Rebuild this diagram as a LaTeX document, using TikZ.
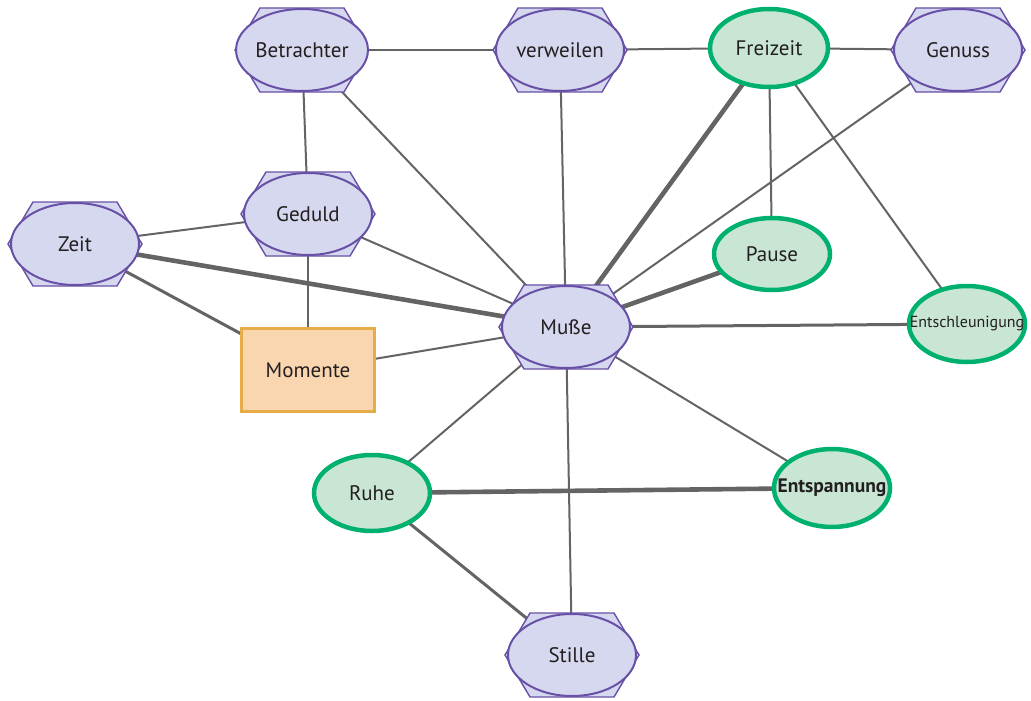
\documentclass[tikz,border=0pt]{standalone}
\usepackage{fontspec}
\setmainfont{PT Sans}
\usetikzlibrary{shapes.geometric,backgrounds}

\definecolor{lav}{RGB}{213,216,238}
\definecolor{lavline}{RGB}{104,80,166}
\definecolor{mint}{RGB}{200,230,211}
\definecolor{mintline}{RGB}{0,176,110}
\definecolor{peach}{RGB}{249,214,176}
\definecolor{peachline}{RGB}{230,172,70}
\definecolor{edgegray}{RGB}{100,100,100}
\definecolor{ink}{RGB}{35,31,32}

\tikzset{
  hexline/.style={draw=lavline, fill=lav, line width=1.4pt, line join=miter},
  hexell/.style={ellipse, draw=lavline, fill=lav, line width=2pt,
    minimum width=128pt, minimum height=82pt, inner sep=0pt,
    font=\fontsize{21}{23}\selectfont, text=ink},
  greenell/.style={ellipse, draw=mintline, fill=mint, line width=4.5pt,
    minimum width=116pt, minimum height=76pt, inner sep=0pt,
    font=\fontsize{21}{23}\selectfont, text=ink},
  rectbox/.style={rectangle, draw=peachline, fill=peach, line width=2.2pt,
    minimum width=133pt, minimum height=83pt, inner sep=0pt,
    font=\fontsize{21}{23}\selectfont, text=ink},
  thin/.style={draw=edgegray, line width=2pt},
  mid/.style={draw=edgegray, line width=3pt},
  thick/.style={draw=edgegray, line width=4.6pt},
}

% hexagon with an inscribed ellipse: name, position, label
\newcommand\hexterm[3]{%
  \begin{scope}[shift={#2}]
    \filldraw[hexline] (-67,0) -- (-42,-42) -- (42,-42) -- (67,0)
      -- (42,42) -- (-42,42) -- cycle;
  \end{scope}
  \node[hexell] (#1) at #2 {#3};
}
% label whose width does not enlarge the ellipse around it
\newcommand\widelabel[1]{\makebox[0pt]{#1}}

\begin{document}
\begin{tikzpicture}[x=1pt,y=-1pt]
  \useasboundingbox (0,0) rectangle (1031,701);

  % concept nodes
  \hexterm{betrachter}{(302,50)}{Betrachter}
  \hexterm{verweilen}{(560,50)}{verweilen}
  \hexterm{genuss}{(958,50)}{Genuss}
  \hexterm{geduld}{(308,214)}{Geduld}
  \hexterm{zeit}{(75,244)}{Zeit}
  \hexterm{musse}{(566,327)}{Muße}
  \hexterm{stille}{(572,655)}{Stille}

  \node[greenell, minimum width=118pt, minimum height=78pt] (freizeit) at (769,48) {Freizeit};
  \node[greenell, minimum height=72pt] (pause) at (772,254) {Pause};
  \node[greenell, font=\fontsize{16}{18}\selectfont] (entschl) at (967,324)
    {\widelabel{Entschleunigung}};
  \node[greenell] (ruhe) at (372,493) {Ruhe};
  \node[greenell, minimum width=116pt, minimum height=78pt,
        font=\fontsize{19.5}{21}\selectfont\bfseries] (entsp) at (832,488)
    {\widelabel{Entspannung}};

  \node[rectbox] (momente) at (308,370) {Momente};

  % connectors behind the nodes
  \begin{pgfonlayer}{background}
    \draw[thin] (betrachter.center) -- (verweilen.center);
    \draw[thin] (verweilen.center) -- (freizeit.center);
    \draw[thin] (freizeit.center) -- (genuss.center);
    \draw[thin] (betrachter.center) -- (geduld.center);
    \draw[thin] (betrachter.center) -- (musse.center);
    \draw[thin] (verweilen.center) -- (musse.center);
    \draw[thick] (freizeit.center) -- (musse.center);
    \draw[thin] (freizeit.center) -- (pause.center);
    \draw[thin] (freizeit.center) -- (entschl.center);
    \draw[thin] (genuss.center) -- (musse.center);
    \draw[thin] (zeit.center) -- (geduld.center);
    \draw[thick] (zeit.center) -- (musse.center);
    \draw[mid] (zeit.center) -- (momente.center);
    \draw[thin] (geduld.center) -- (momente.center);
    \draw[thin] (geduld.center) -- (musse.center);
    \draw[thin] (momente.center) -- (musse.center);
    \draw[thick] (pause.center) -- (musse.center);
    \draw[mid] (musse.center) -- (entschl.center);
    \draw[thin] (musse.center) -- (ruhe.center);
    \draw[thin] (musse.center) -- (stille.center);
    \draw[thin] (musse.center) -- (entsp.center);
    \draw[thick] (ruhe.center) -- (entsp.center);
    \draw[mid] (ruhe.center) -- (stille.center);
  \end{pgfonlayer}
\end{tikzpicture}
\end{document}
